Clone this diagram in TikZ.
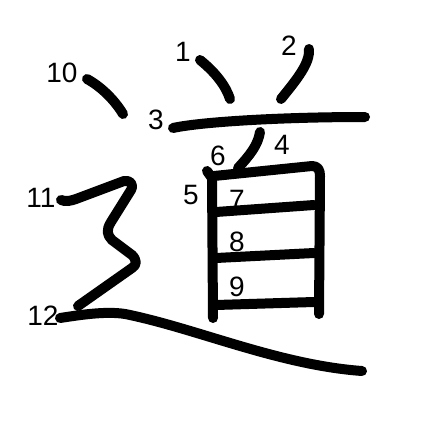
\documentclass[tikz,border=0pt]{standalone}
\usepackage{fontspec}
\setmainfont{Liberation Sans}
\begin{document}
\begin{tikzpicture}[x=1pt,y=-1pt,
  strk/.style={line width=10pt,line cap=round,line join=round},
  num/.style={font=\fontsize{28}{28}\selectfont,inner sep=0pt}]
\useasboundingbox (0,0) rectangle (447,447);
% stroke 1
\draw[strk] (200,60) .. controls (215,72) and (226,86) .. (230,99);
% stroke 2
\draw[strk] (309,49) .. controls (310,63) and (298,78) .. (281,99);
% stroke 3
\draw[strk] (173,128) .. controls (200,122) and (280,117) .. (365,117);
% stroke 4
\draw[strk] (260,132) .. controls (258,145) and (250,155) .. (238,168);
% stroke 5
\draw[strk] (207,171) -- (212,178) -- (213,318);
% stroke 6
\draw[strk] (214,176) -- (312,166) .. controls (318,166) and (320,170) .. (320,176) -- (319,314);
% strokes 7-9
\draw[strk] (216,212) -- (314,205);
\draw[strk] (216,258) -- (314,253);
\draw[strk] (216,305) -- (314,302);
% stroke 10
\draw[strk] (87,79) .. controls (100,86) and (114,99) .. (123,114);
% stroke 11
\draw[strk] (61,200) .. controls (66,202) and (70,201) .. (76,199)
  -- (124,181) .. controls (130,180) and (134,184) .. (131,190)
  -- (111,222) .. controls (106,230) and (107,235) .. (112,240)
  -- (132,255) .. controls (137,260) and (137,265) .. (132,268)
  -- (78,306);
% stroke 12
\draw[strk] (60,318) .. controls (80,315) and (110,310) .. (130,315)
  .. controls (200,330) and (280,365) .. (362,371);
% labels
\node[num] (n1) at (183,52) {1};
\node[num] (n2) at (289,46) {2};
\node[num] (n3) at (156,120) {3};
\node[num] (n4) at (282,145) {4};
\node[num] (n5) at (191,195) {5};
\node[num] (n6) at (218,156) {6};
\node[num] (n7) at (237,200) {7};
\node[num] (n8) at (237,242) {8};
\node[num] (n9) at (237,287) {9};
\node[num] (n10) at (62,73) {10};
\node[num] (n11) at (41,198) {11};
\node[num] (n12) at (43,316) {12};
\end{tikzpicture}
\end{document}
